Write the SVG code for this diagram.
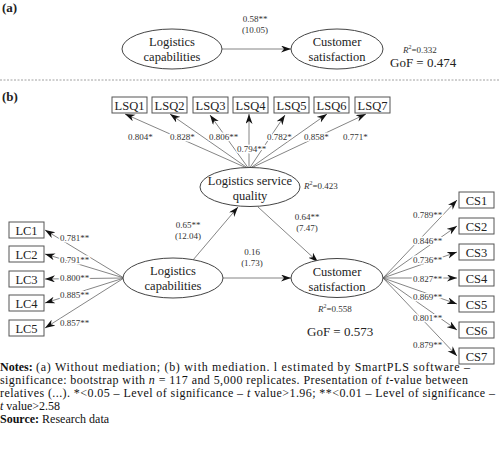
<svg xmlns="http://www.w3.org/2000/svg" width="500" height="449" viewBox="0 0 500 449">
<style>
text{font-family:"Liberation Serif","Times New Roman",serif;fill:#222}
.node{fill:#fff;stroke:#444;stroke-width:1}
.box{fill:#fff;stroke:#555;stroke-width:1}
.nt{font-size:12.5px;text-anchor:middle}
.bt{font-size:12.5px;text-anchor:middle}
.lb{font-size:9px;fill:#333}
.lbc{font-size:9px;fill:#333;text-anchor:middle}
.halo{stroke:#fff;stroke-width:3;paint-order:stroke;stroke-linejoin:round}
.ln{stroke:#666;stroke-width:0.8;fill:none;marker-end:url(#ah)}
.note{font-size:12px;fill:#111}
.b{font-weight:bold}
.i{font-style:italic}
</style>
<defs>
<marker id="ah" markerUnits="userSpaceOnUse" markerWidth="11" markerHeight="8" refX="10" refY="3.5" orient="auto">
<path d="M0,0 L10,3.5 L0,7 L3,3.5 Z" fill="#111"/>
</marker>
</defs>

<text x="2" y="12" font-size="13" class="b">(a)</text>
<line x1="0" y1="80" x2="500" y2="80" stroke="#888" stroke-width="0.8" stroke-dasharray="2,1.5"/>
<text x="2" y="101" font-size="13" class="b">(b)</text>

<g id="connectors">
<line class="ln" x1="222" y1="49" x2="291" y2="49"/>
<line class="ln" x1="249" y1="169" x2="125" y2="114"/>
<line class="ln" x1="249" y1="169" x2="170" y2="114"/>
<line class="ln" x1="249" y1="169" x2="210" y2="115"/>
<line class="ln" x1="249" y1="169" x2="249" y2="114"/>
<line class="ln" x1="249" y1="169" x2="285" y2="115"/>
<line class="ln" x1="249" y1="169" x2="327" y2="114"/>
<line class="ln" x1="249" y1="169" x2="366" y2="114"/>
<line class="ln" x1="124" y1="278" x2="45" y2="230"/>
<line class="ln" x1="124" y1="278" x2="45" y2="254"/>
<line class="ln" x1="124" y1="278" x2="45" y2="279"/>
<line class="ln" x1="124" y1="278" x2="45" y2="303"/>
<line class="ln" x1="124" y1="278" x2="45" y2="328"/>
<line class="ln" x1="193" y1="260" x2="238" y2="207"/>
<line class="ln" x1="258" y1="207" x2="318" y2="262"/>
<line class="ln" x1="223" y1="278" x2="291" y2="278"/>
<line class="ln" x1="383" y1="278" x2="457" y2="200"/>
<line class="ln" x1="383" y1="278" x2="457" y2="226"/>
<line class="ln" x1="383" y1="278" x2="457" y2="252"/>
<line class="ln" x1="383" y1="278" x2="457" y2="278"/>
<line class="ln" x1="383" y1="278" x2="457" y2="304"/>
<line class="ln" x1="383" y1="278" x2="457" y2="330"/>
<line class="ln" x1="383" y1="278" x2="457" y2="356"/>
</g>

<g id="labels">
<text class="lbc halo" x="255" y="22">0.58**</text>
<text class="lbc halo" x="255" y="33">(10.05)</text>
<text class="lb halo" x="128" y="140">0.804*</text>
<text class="lb halo" x="170" y="140">0.828*</text>
<text class="lb halo" x="209" y="140">0.806**</text>
<text class="lb halo" x="237" y="152">0.794**</text>
<text class="lb halo" x="267" y="140">0.782*</text>
<text class="lb halo" x="304" y="140">0.858*</text>
<text class="lb halo" x="343" y="140">0.771*</text>
<text class="lb halo" x="60" y="241">0.781**</text>
<text class="lb halo" x="60" y="263">0.791**</text>
<text class="lb halo" x="60" y="281">0.800**</text>
<text class="lb halo" x="60" y="298">0.885**</text>
<text class="lb halo" x="60" y="326">0.857**</text>
<text class="lbc halo" x="188" y="228">0.65**</text>
<text class="lbc halo" x="188" y="239">(12.04)</text>
<text class="lbc halo" x="307" y="220">0.64**</text>
<text class="lbc halo" x="307" y="231">(7.47)</text>
<text class="lbc halo" x="252" y="255">0.16</text>
<text class="lbc halo" x="252" y="266">(1.73)</text>
<text class="lb halo" x="413" y="218">0.789**</text>
<text class="lb halo" x="413" y="244">0.846**</text>
<text class="lb halo" x="413" y="263">0.736**</text>
<text class="lb halo" x="413" y="282">0.827**</text>
<text class="lb halo" x="413" y="300">0.869**</text>
<text class="lb halo" x="413" y="321">0.801**</text>
<text class="lb halo" x="413" y="348">0.879**</text>
</g>

<g id="a-logistics-capabilities">
<ellipse class="node" cx="172" cy="49" rx="50" ry="20"/>
<text class="nt" x="172" y="46">Logistics</text>
<text class="nt" x="172" y="61">capabilities</text>
</g>
<g id="a-customer-satisfaction">
<ellipse class="node" cx="337" cy="49" rx="46" ry="20"/>
<text class="nt" x="337" y="46">Customer</text>
<text class="nt" x="337" y="61">satisfaction</text>
<text class="lb" x="403" y="53"><tspan class="i">R</tspan><tspan font-size="6" dy="-4">2</tspan><tspan dy="4">=0.332</tspan></text>
<text x="390" y="67" font-size="13">GoF = 0.474</text>
</g>

<g id="lsq1"><rect class="box" x="112" y="97" width="35" height="16"/><text class="bt" x="129.5" y="109.5">LSQ1</text></g>
<g id="lsq2"><rect class="box" x="152" y="97" width="35" height="16"/><text class="bt" x="169.5" y="109.5">LSQ2</text></g>
<g id="lsq3"><rect class="box" x="193" y="97" width="35" height="16"/><text class="bt" x="210.5" y="109.5">LSQ3</text></g>
<g id="lsq4"><rect class="box" x="233" y="97" width="35" height="16"/><text class="bt" x="250.5" y="109.5">LSQ4</text></g>
<g id="lsq5"><rect class="box" x="274" y="97" width="35" height="16"/><text class="bt" x="291.5" y="109.5">LSQ5</text></g>
<g id="lsq6"><rect class="box" x="314" y="97" width="35" height="16"/><text class="bt" x="331.5" y="109.5">LSQ6</text></g>
<g id="lsq7"><rect class="box" x="355" y="97" width="35" height="16"/><text class="bt" x="372.5" y="109.5">LSQ7</text></g>

<g id="b-logistics-service-quality">
<ellipse class="node" cx="250" cy="187" rx="50" ry="19.5"/>
<text class="nt" x="250" y="185">Logistics service</text>
<text class="nt" x="250" y="200">quality</text>
<text class="lb" x="304" y="189"><tspan class="i">R</tspan><tspan font-size="6" dy="-4">2</tspan><tspan dy="4">=0.423</tspan></text>
</g>

<g id="lc1"><rect class="box" x="9" y="222" width="35" height="16"/><text class="bt" x="26.5" y="234.5">LC1</text></g>
<g id="lc2"><rect class="box" x="9" y="246" width="35" height="16"/><text class="bt" x="26.5" y="258.5">LC2</text></g>
<g id="lc3"><rect class="box" x="9" y="271" width="35" height="16"/><text class="bt" x="26.5" y="283.5">LC3</text></g>
<g id="lc4"><rect class="box" x="9" y="295" width="35" height="16"/><text class="bt" x="26.5" y="307.5">LC4</text></g>
<g id="lc5"><rect class="box" x="9" y="320" width="35" height="16"/><text class="bt" x="26.5" y="332.5">LC5</text></g>

<g id="b-logistics-capabilities">
<ellipse class="node" cx="173" cy="278" rx="50" ry="20"/>
<text class="nt" x="173" y="275">Logistics</text>
<text class="nt" x="173" y="290">capabilities</text>
</g>

<g id="b-customer-satisfaction">
<ellipse class="node" cx="337" cy="278" rx="46" ry="19.5"/>
<text class="nt" x="337" y="276">Customer</text>
<text class="nt" x="337" y="291">satisfaction</text>
<text class="lb" x="318" y="312"><tspan class="i">R</tspan><tspan font-size="6" dy="-4">2</tspan><tspan dy="4">=0.558</tspan></text>
<text x="307" y="336" font-size="13">GoF = 0.573</text>
</g>

<g id="cs1"><rect class="box" x="459" y="192" width="35" height="16"/><text class="bt" x="476.5" y="204.5">CS1</text></g>
<g id="cs2"><rect class="box" x="459" y="218" width="35" height="16"/><text class="bt" x="476.5" y="230.5">CS2</text></g>
<g id="cs3"><rect class="box" x="459" y="244" width="35" height="16"/><text class="bt" x="476.5" y="256.5">CS3</text></g>
<g id="cs4"><rect class="box" x="459" y="270" width="35" height="16"/><text class="bt" x="476.5" y="282.5">CS4</text></g>
<g id="cs5"><rect class="box" x="459" y="296" width="35" height="16"/><text class="bt" x="476.5" y="308.5">CS5</text></g>
<g id="cs6"><rect class="box" x="459" y="322" width="35" height="16"/><text class="bt" x="476.5" y="334.5">CS6</text></g>
<g id="cs7"><rect class="box" x="459" y="348" width="35" height="16"/><text class="bt" x="476.5" y="360.5">CS7</text></g>

<g id="notes">
<text class="note b" x="0" y="371">Notes:</text>
<text class="note" x="36" y="371" textLength="434">(a) Without mediation; (b) with mediation. l estimated by SmartPLS software –</text>
<text class="note" x="0" y="384" textLength="468">significance: bootstrap with <tspan class="i">n</tspan> = 117 and 5,000 replicates. Presentation of <tspan class="i">t</tspan>-value between</text>
<text class="note" x="0" y="397" textLength="495">relatives (...). *&lt;0.05 – Level of significance – <tspan class="i">t</tspan> value&gt;1.96; **&lt;0.01 – Level of significance –</text>
<text class="note" x="0" y="410"><tspan class="i">t</tspan> value&gt;2.58</text>
<text class="note" x="0" y="423"><tspan class="b">Source:</tspan> Research data</text>
</g>
</svg>
